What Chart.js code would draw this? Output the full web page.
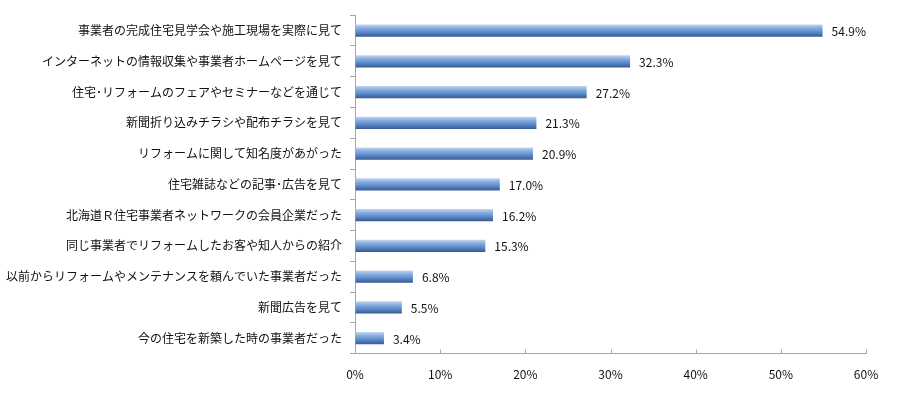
<!DOCTYPE html>
<html>
<head>
<meta charset="utf-8">
<script src="https://cdn.jsdelivr.net/npm/chart.js@4"></script>
<style>
  html, body { margin: 0; padding: 0; background: #fff; }
  #wrap { width: 898px; height: 396px; }
</style>
</head>
<body>
<div id="wrap"><canvas id="myChart" width="898" height="396"></canvas></div>
<script>
const categories = [
  '事業者の完成住宅見学会や施工現場を実際に見て',
  'インターネットの情報収集や事業者ホームページを見て',
  '住宅･リフォームのフェアやセミナーなどを通じて',
  '新聞折り込みチラシや配布チラシを見て',
  'リフォームに関して知名度があがった',
  '住宅雑誌などの記事･広告を見て',
  '北海道Ｒ住宅事業者ネットワークの会員企業だった',
  '同じ事業者でリフォームしたお客や知人からの紹介',
  '以前からリフォームやメンテナンスを頼んでいた事業者だった',
  '新聞広告を見て',
  '今の住宅を新築した時の事業者だった'
]
const values = [54.9, 32.3, 27.2, 21.3, 20.9, 17.0, 16.2, 15.3, 6.8, 5.5, 3.4]
const xTicks = [0, 10, 20, 30, 40, 50, 60]

;(() => {
  'use strict'

  const FONT = "'Noto Sans CJK JP', 'Noto Sans', sans-serif"
  const BAR_PCT = 0.4

  // vertical gradient per bar, placed with the y scale
  const barFill = (c) => {
    const chart = c.chart
    const ys = chart.scales.y
    if (!ys || !chart.chartArea) return '#4f81bd'
    const cy = ys.getPixelForValue(c.dataIndex)
    const h = (chart.chartArea.bottom - chart.chartArea.top) / categories.length * BAR_PCT
    const top = cy - h / 2
    const g = chart.ctx.createLinearGradient(0, top, 0, top + h)
    g.addColorStop(0, '#c2d7f0')
    g.addColorStop(0.3, '#86addf')
    g.addColorStop(0.65, '#5886c8')
    g.addColorStop(1, '#36598c')
    return g
  }

  const labelsPlugin = {
    id: 'valueLabels',
    afterDatasetsDraw (chart) {
      const ctx = chart.ctx
      const meta = chart.getDatasetMeta(0)
      ctx.save()
      ctx.font = '12px ' + FONT
      ctx.fillStyle = '#111'
      ctx.textBaseline = 'middle'
      ctx.textAlign = 'left'
      meta.data.forEach((bar, i) => {
        ctx.fillText(values[i].toFixed(1) + '%', bar.x + 9, bar.y + 1)
      })
      // small inside tick marks on the x axis
      const xs = chart.scales.x
      ctx.strokeStyle = '#a6a6a6'
      ctx.lineWidth = 1
      xTicks.forEach((t) => {
        const px = Math.round(xs.getPixelForValue(t)) + 0.5
        ctx.beginPath()
        ctx.moveTo(px, xs.top)
        ctx.lineTo(px, xs.top - 4)
        ctx.stroke()
      })
      ctx.restore()
    }
  }

  const ctx = document.getElementById('myChart')

  // eslint-disable-next-line no-unused-vars
  const myChart = new Chart(ctx, {
    type: 'bar',
    data: {
      labels: categories,
      datasets: [{
        data: values,
        backgroundColor: barFill,
        borderColor: '#3a5f95',
        borderWidth: 0,
        barPercentage: BAR_PCT,
        categoryPercentage: 1.0
      }]
    },
    options: {
      indexAxis: 'y',
      responsive: false,
      animation: false,
      layout: { padding: { top: 6, right: 32, bottom: 0, left: 4 } },
      plugins: {
        legend: { display: false },
        tooltip: { enabled: false }
      },
      scales: {
        x: {
          min: 0,
          max: 60,
          afterBuildTicks: (s) => { s.ticks = xTicks.map(v => ({ value: v })) },
          grid: { drawOnChartArea: false, drawTicks: false },
          border: { color: '#a6a6a6' },
          ticks: {
            padding: 14,
            color: '#111',
            font: { size: 12, family: FONT },
            callback: (v) => v + '%'
          }
        },
        y: {
          offset: true,
          grid: { drawOnChartArea: false, offset: true, tickLength: 5, color: '#a6a6a6' },
          border: { color: '#a6a6a6' },
          afterFit: (s) => { s.width = 351 },
          ticks: {
            padding: 8,
            color: '#111',
            font: { size: 12, family: FONT }
          }
        }
      }
    },
    plugins: [labelsPlugin]
  })
})()
</script>
</body>
</html>
